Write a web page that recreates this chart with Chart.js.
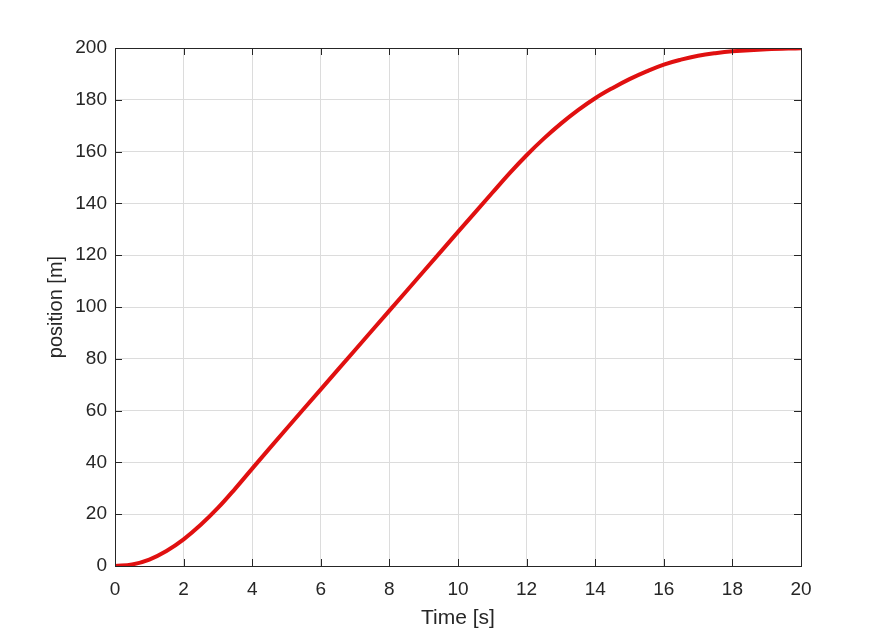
<!DOCTYPE html>
<html>
<head>
<meta charset="utf-8">
<script src="https://cdn.jsdelivr.net/npm/chart.js@4"></script>
<style>
  html, body { margin: 0; padding: 0; background: #fff; }
  #wrap { width: 886px; height: 636px; }
</style>
</head>
<body>
<div id="wrap"><canvas id="chart" width="886" height="636"></canvas></div>
<script>
// values
const timeS = [0, 0.5, 1, 1.5, 2, 2.5, 3, 3.5, 4, 5, 6, 7, 8, 9, 10, 11, 11.5, 12, 12.5, 13, 13.5, 14, 14.5, 15, 15.5, 16, 16.5, 17, 17.5, 18, 19, 20];
const positionM = [0, 0.6, 2.5, 5.8, 10.3, 15.9, 22.4, 29.8, 37.6, 53, 68.2, 83.4, 98.6, 113.8, 129, 144.1, 151.6, 158.6, 165, 170.8, 176, 180.6, 184.5, 188, 191, 193.6, 195.5, 197, 198, 198.7, 199.5, 199.9];
const xTicks = [0, 2, 4, 6, 8, 10, 12, 14, 16, 18, 20];
const yTicks = [0, 20, 40, 60, 80, 100, 120, 140, 160, 180, 200];

const textColor = '#262626';
const font = { family: '"Liberation Sans", Arial, sans-serif', size: 19 };

// matlab-style box with inward ticks on all four sides
const boxPlugin = {
  id: 'box',
  afterDraw(chart) {
    const { ctx, chartArea: a, scales } = chart;
    const len = 7;
    ctx.save();
    ctx.strokeStyle = textColor;
    ctx.lineWidth = 1;
    ctx.strokeRect(a.left + 0.5, a.top + 0.5, a.right - a.left, a.bottom - a.top);
    ctx.beginPath();
    xTicks.forEach(v => {
      const x = Math.round(scales.x.getPixelForValue(v)) + 0.5;
      ctx.moveTo(x, a.bottom); ctx.lineTo(x, a.bottom - len);
      ctx.moveTo(x, a.top); ctx.lineTo(x, a.top + len);
    });
    yTicks.forEach(v => {
      const y = Math.round(scales.y.getPixelForValue(v)) + 0.5;
      ctx.moveTo(a.left, y); ctx.lineTo(a.left + len, y);
      ctx.moveTo(a.right, y); ctx.lineTo(a.right - len, y);
    });
    ctx.stroke();
    ctx.restore();
  }
};

new Chart(document.getElementById('chart'), {
  type: 'line',
  data: {
    datasets: [{
      data: timeS.map((t, i) => ({ x: t, y: positionM[i] })),
      borderColor: '#e01010',
      borderWidth: 4,
      pointRadius: 0,
      tension: 0.4,
      fill: false,
    }]
  },
  options: {
    responsive: false,
    animation: false,
    layout: { padding: { top: 48, right: 85, left: 0, bottom: 0 } },
    plugins: { legend: { display: false }, tooltip: { enabled: false } },
    scales: {
      x: {
        type: 'linear',
        min: 0, max: 20,
        afterFit: s => { s.height = 70; },
        afterBuildTicks: s => { s.ticks = xTicks.map(v => ({ value: v })); },
        ticks: { color: textColor, font, padding: 12, maxRotation: 0 },
        grid: { color: '#dcdcdc', drawTicks: false },
        border: { display: false },
        title: { display: true, text: 'Time [s]', color: textColor, font: { ...font, size: 21 }, padding: { bottom: 5 } },
      },
      y: {
        min: 0, max: 200,
        afterFit: s => { s.width = 115; },
        afterBuildTicks: s => { s.ticks = yTicks.map(v => ({ value: v })); },
        ticks: { color: textColor, font, padding: 8 },
        grid: { color: '#dcdcdc', drawTicks: false },
        border: { display: false },
        title: { display: true, text: 'position [m]', color: textColor, font: { ...font, size: 20 }, padding: { top: 44 } },
      }
    }
  },
  plugins: [boxPlugin]
});
</script>
</body>
</html>
